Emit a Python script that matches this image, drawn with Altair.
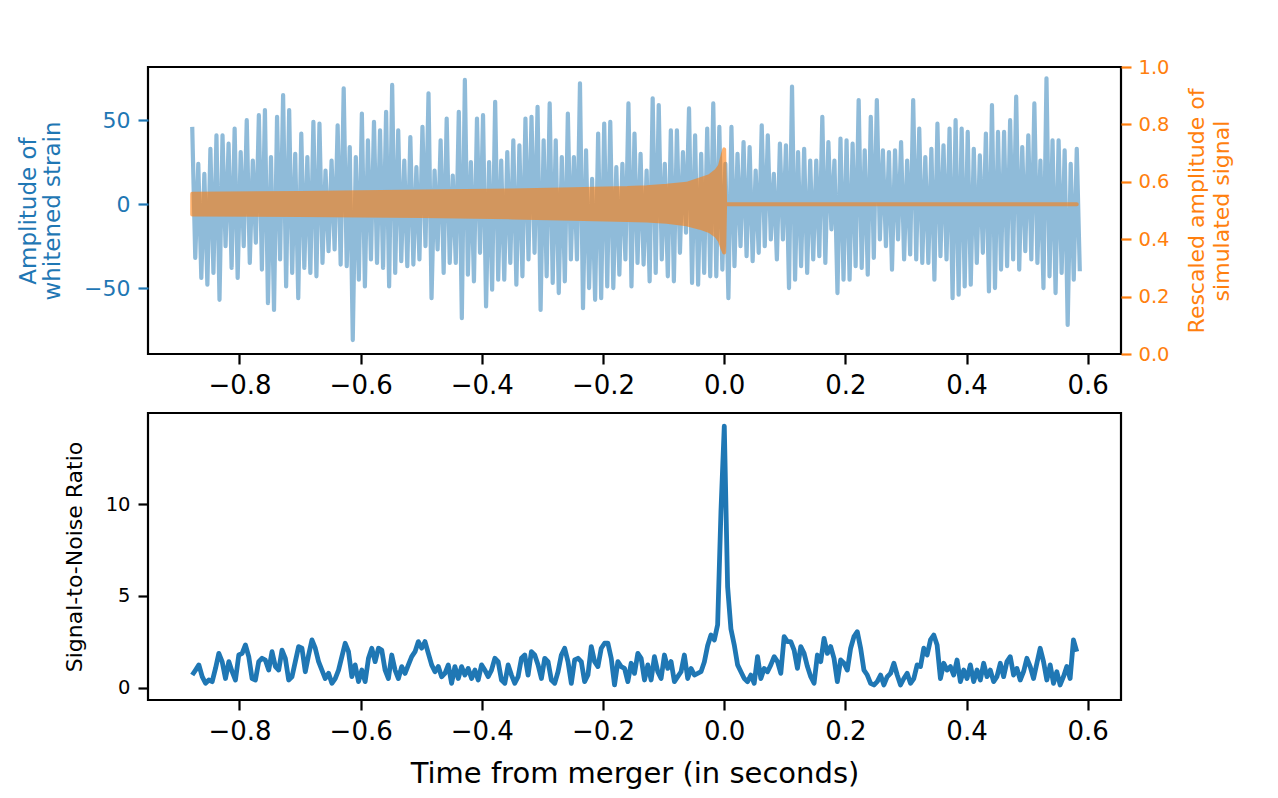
import altair as alt
import numpy as np
import pandas as pd

T_START = -0.878
T_END = 0.582

# whitened strain: upper / lower excursion read in each 0.01 s slot
strain_hi = [46, 24, 18, 33, 41, 41, 36, 45, 31, 50,
             26, 53, 56, 28, 52, 65, 56, 30, 42, 28,
             49, 48, 20, 26, 47, 69, 34, 28, 54, 38,
             49, 44, 55, 71, 44, 26, 40, 22,
             46, 66, 20, 38, 51, 17, 55, 74, 25, 51,
             53, 25, 61, 26, 31, 38, 35, 51, 52, 58,
             38, 60, 38, 28, 54, 28, 72, 32, 15, 42,
             48, 49, 22, 24, 60, 42,
             30, 20, 63, 59, 24, 44, 44, 31, 57, 41,
             30, 45, 60, 46, 24, 46, 30, 37, 34, 20,
             47, 41, 18, 36, 35, 70, 31, 33, 26, 26,
             52, 37, 26, 39, 38, 36,
             62, 32, 52, 62, 32, 31, 32, 37, 26, 62,
             45, 28, 33, 48, 35, 45, 50, 45, 43, 33,
             29, 42, 59, 43, 43, 50, 64, 34, 41, 60,
             26, 75, 38, 38, 32, 24, 33]
strain_lo = [-32, -44, -48, -41, -57, -25, -38, -44, -25, -35,
             -23, -39, -59, -63, -33, -49, -41, -56, -38, -41,
             -43, -35, -28, -27, -36, -37, -81, -45, -49, -33,
             -35, -38, -49, -41, -34, -37, -36, -33,
             -25, -56, -27, -41, -35, -35, -68, -42, -46, -29,
             -61, -51, -45, -45, -35, -48, -43, -33, -29, -63,
             -43, -47, -53, -46, -33, -33, -62, -50, -57, -56,
             -49, -50, -42, -33, -49, -35,
             -36, -46, -41, -33, -43, -46, -29, -17, -47, -48,
             -41, -43, -43, -39, -56, -37, -25, -31, -34, -29,
             -25, -21, -33, -21, -50, -45, -37, -41, -33, -31,
             -35, -15, -53, -45, -45, -37,
             -38, -42, -32, -21, -25, -39, -21, -33, -30, -33,
             -35, -35, -45, -31, -33, -56, -54, -49, -48, -35,
             -29, -52, -50, -39, -37, -33, -39, -28, -33, -35,
             -50, -43, -53, -41, -72, -45, -40]

# simulated (rescaled) template envelope
template_t = [-0.878, -0.7, -0.5, -0.35, -0.25, -0.16, -0.128, -0.095, -0.062,
              -0.040, -0.024, -0.013, -0.007, -0.003, 0.0, 0.0015, 0.582]
template_hi = [0.558, 0.561, 0.566, 0.570, 0.574, 0.578, 0.581, 0.586, 0.593,
               0.608, 0.620, 0.638, 0.655, 0.688, 0.713, 0.522, 0.522]
template_lo = [0.486, 0.484, 0.481, 0.476, 0.471, 0.467, 0.465, 0.461, 0.452,
               0.440, 0.428, 0.412, 0.394, 0.369, 0.354, 0.522, 0.522]

# signal-to-noise ratio
snr = [0.69, 0.96, 1.24, 0.6, 0.24, 0.42, 0.33, 1.05, 1.87, 1.42,
       0.5, 1.42, 0.87, 0.42, 1.78, 1.87, 2.33, 1.69, 0.5, 0.42,
       1.42, 1.6, 1.5, 0.96, 1.96, 1.15, 0.96, 2.05, 1.6, 0.42,
       0.6, 1.42, 2.24, 2.15, 0.87, 1.78, 2.6, 2.15, 1.42, 0.96,
       0.5, 0.78, 0.24, 0.5, 0.96, 1.69, 2.42, 1.96, 0.6, 1.24,
       0.33, 0.96, 0.33, 1.6, 2.15, 1.42, 2.15, 2.05, 0.96, 0.5,
       1.78, 0.96, 0.5, 1.15, 0.78, 1.24, 1.69, 1.96, 2.51, 2.15,
       2.51, 1.87, 1.24, 0.87, 1.15, 0.6, 0.78, 1.24, 0.24, 1.15,
       0.5, 1.15, 0.69, 1.05, 0.5, 0.96, 0.42, 1.24, 0.96,
       0.6, 0.96, 1.6, 1.42, 0.42, 0.24, 1.24, 0.69, 0.24, 0.6,
       1.6, 1.78, 0.69, 1.96, 1.78, 1.24, 0.5, 1.6, 1.42, 0.42,
       0.24, 0.87, 1.78, 2.15, 1.42, 0.24, 1.51, 1.6, 1.42, 0.33,
       0.69, 2.24, 1.42, 1.15, 2.15, 2.42, 2.42, 1.6, 0.15, 1.42,
       1.15, 1.05, 0.33, 1.33, 0.78, 1.87, 1.6, 0.42, 1.24, 0.42,
       1.69, 0.87, 0.5, 1.78, 1.05, 1.42, 0.33, 0.6, 0.87, 1.78,
       0.5, 1.05, 0.69, 0.78, 0.87, 1.4, 2.3, 2.87, 2.6, 3.43,
       9.6, 14.25, 5.5, 3.2, 2.33, 1.24, 0.87, 0.5, 0.33, 0.69,
       0.24, 1.69, 0.5, 1.05, 0.87, 1.24, 1.69,
       1.42, 0.78, 2.78, 2.51, 2.51, 2.05, 1.05, 2.24, 1.87,
       1.15, 0.6, 0.24, 1.78, 1.42, 2.69, 1.87, 2.24, 1.6, 0.33,
       1.51, 1.33, 0.96, 2.15, 2.78, 3.05, 2.15, 0.96, 0.69, 0.24,
       0.15, 0.33, 0.69, 0.15, 0.6, 0.78, 1.33, 0.69, 0.15, 0.5,
       0.78, 0.24, 0.5, 1.24, 1.15, 2.15, 1.78, 2.6, 2.87, 2.33,
       0.5, 1.33, 0.96, 1.15, 0.69, 1.51, 0.33, 0.96, 0.5, 1.24,
       0.33, 0.96, 0.42, 1.33, 0.6, 0.96, 0.33, 0.6, 1.33, 0.6,
       1.42, 1.69, 0.69, 1.05, 0.42, 0.87, 1.6, 1.15, 0.5, 1.33,
       2.15, 1.42, 0.42, 1.24, 0.24, 0.87, 0.15, 0.6, 1.15, 0.5,
       2.6, 1.96]

x_ticks = [-0.8, -0.6, -0.4, -0.2, 0.0, 0.2, 0.4, 0.6]
strain_ticks = [-50, 0, 50]
template_ticks = [0.0, 0.2, 0.4, 0.6, 0.8, 1.0]
snr_ticks = [0, 5, 10]

# ---- tables -------------------------------------------------------------
n = len(strain_hi)
grid = np.linspace(T_START, T_END, n)
half = (T_END - T_START) / (n - 1) / 2.0
st_t, st_v = [], []
for i in range(n):
    st_t += [grid[i], grid[i] + half]
    st_v += [strain_hi[i], strain_lo[i]]
strain_df = pd.DataFrame({"t": st_t, "v": st_v})

template_df = pd.DataFrame({"t": template_t, "hi": template_hi, "lo": template_lo})
snr_df = pd.DataFrame({"t": np.linspace(T_START, T_END, len(snr)), "snr": snr})

BLUE = "#1f77b4"
ORANGE = "#ff7f0e"
FONT = "DejaVu Sans"
W, H = 973, 287

x_scale = alt.Scale(domain=[-0.951, 0.655], nice=False, zero=False)


def x_axis(title=None):
    kw = dict(values=x_ticks, format=".1f", labelFontSize=26, tickSize=10,
              tickWidth=2.2, labelPadding=8, labelFlush=False, grid=False,
              domain=False, tickColor="black", labelColor="black")
    if title is not None:
        kw.update(title=title, titleFontSize=29, titleFontWeight="normal",
                  titlePadding=15, titleColor="black")
    else:
        kw.update(title=None)
    return alt.Axis(**kw)


blue = alt.Chart(strain_df).mark_line(
    color=BLUE, opacity=0.5, strokeWidth=4.2, strokeJoin="round", strokeCap="butt"
).encode(
    x=alt.X("t:Q", scale=x_scale, axis=x_axis()),
    y=alt.Y("v:Q", scale=alt.Scale(domain=[-89.3, 81.7], nice=False, zero=False),
            axis=alt.Axis(values=strain_ticks, format="d", title=["Amplitude of", "whitened strain"],
                          titleColor=BLUE, labelColor=BLUE, tickColor=BLUE,
                          labelFontSize=22, titleFontSize=23, titleFontWeight="normal",
                          titleLineHeight=24, titleX=-108, titleY=143.5,
                          tickSize=10, tickWidth=2.2,
                          labelPadding=8, grid=False, domain=False)),
)

orange = alt.Chart(template_df).mark_area(
    color=ORANGE, stroke=ORANGE, strokeWidth=4, opacity=0.6, strokeJoin="round"
).encode(
    x=alt.X("t:Q", scale=x_scale, axis=x_axis()),
    y=alt.Y("hi:Q", scale=alt.Scale(domain=[0, 1], nice=False, zero=False),
            axis=alt.Axis(orient="right", values=template_ticks, format=".1f",
                          title=["Rescaled amplitude of", "simulated signal"],
                          titleAngle=270, titleBaseline="top", titleX=65, titleY=143.5,
                          titleColor=ORANGE, labelColor=ORANGE, tickColor=ORANGE,
                          labelFontSize=19.5, titleFontSize=22, titleFontWeight="normal",
                          titleLineHeight=25, tickSize=10, tickWidth=2.2,
                          labelPadding=7, grid=False, domain=False)),
    y2="lo:Q",
)

top = alt.layer(blue, orange).resolve_scale(y="independent").properties(width=W, height=H)

bottom = alt.Chart(snr_df).mark_line(
    color=BLUE, strokeWidth=4.8, strokeJoin="round"
).encode(
    x=alt.X("t:Q", scale=x_scale, axis=x_axis("Time from merger (in seconds)")),
    y=alt.Y("snr:Q", scale=alt.Scale(domain=[-0.67, 14.96], nice=False, zero=False),
            axis=alt.Axis(values=snr_ticks, format="d", title="Signal-to-Noise Ratio",
                          titleColor="black", labelColor="black", tickColor="black",
                          labelFontSize=19.5, titleFontSize=22, titleFontWeight="normal",
                          titleX=-62, titleY=143.5, tickSize=10, tickWidth=2.2, labelPadding=8,
                          grid=False, domain=False)),
).properties(width=W, height=H)

chart = alt.vconcat(top, bottom, spacing=11).properties(
    padding={"left": 7, "top": 47, "right": 5, "bottom": 0}
).configure(font=FONT).configure_view(stroke="black", strokeWidth=2.2)

chart.save("out.html", embed_options={"renderer": "svg", "actions": False})
